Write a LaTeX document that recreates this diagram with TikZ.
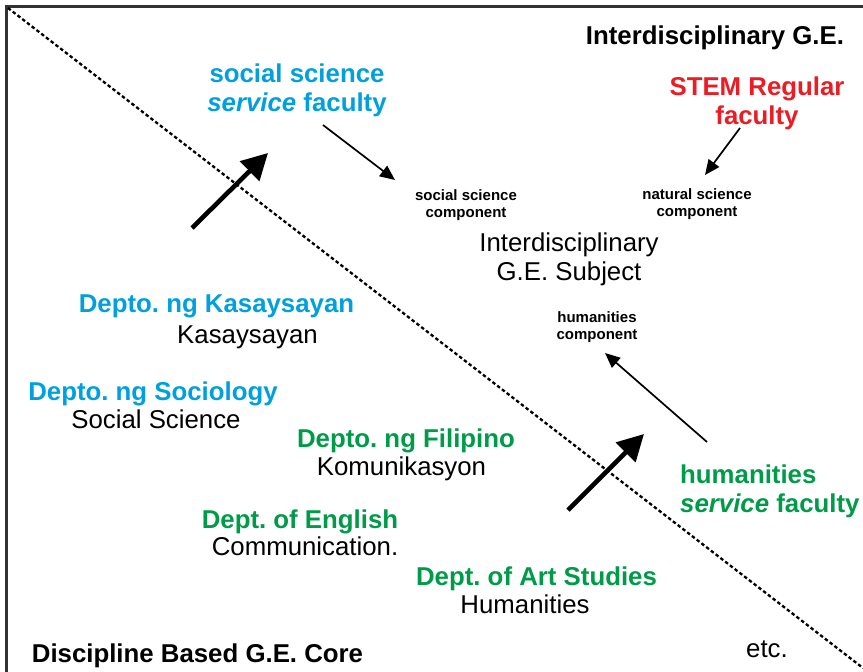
\documentclass[tikz,border=0pt]{standalone}
\usepackage{fontspec}
\setmainfont{Liberation Sans}
\frenchspacing
\usetikzlibrary{arrows.meta}
\definecolor{sblue}{RGB}{0,160,222}
\definecolor{hgreen}{RGB}{0,155,72}
\definecolor{sred}{RGB}{236,28,36}
\definecolor{frame}{RGB}{50,50,50}
\tikzset{
  big/.style={font=\fontsize{25.8}{29}\selectfont, inner sep=0pt, anchor=base, align=center},
  bigb/.style={big, font=\fontsize{25.8}{29}\selectfont\bfseries},
  small/.style={font=\fontsize{15}{17}\selectfont\bfseries, inner sep=0pt, anchor=base, align=center},
  thinarrow/.style={line width=1.7pt, -{Triangle[length=15pt,width=13pt]}},
  thickarrow/.style={line width=4.6pt, -{Triangle[length=26pt,width=27pt]}},
  divider/.style={line width=2.3pt, dash pattern=on 3.5pt off 2.5pt},
}
\begin{document}
\begin{tikzpicture}[x=1pt,y=-1pt]
\useasboundingbox (0,0) rectangle (863,672);
% frame
\draw[frame, line width=2.6pt] (6.5,672) -- (6.5,6.5) -- (863,6.5);
% diagonal divider
\coordinate (d1) at (8,8);
\coordinate (d2) at (863,668);
\draw[divider] (d1) -- (d2);

% top right (multi-line nodes are anchored at the baseline of their last line)
\node[bigb] (igeTitle) at (715,44) {Interdisciplinary G.E.};
\node[bigb, text=sblue] (ssFac) at (297,111) {social science\\\textit{service} faculty};
\node[bigb, text=sred] (stemFac) at (757,124) {STEM Regular\\faculty};
\node[small] (ssComp) at (466,217) {social science\\component};
\node[small] (nsComp) at (697,216) {natural science\\component};
\node[big] (igeSubj) at (569,280) {Interdisciplinary\\G.E. Subject};
\node[small] (huComp) at (597,339) {humanities\\component};
\node[bigb, text=hgreen, align=left, anchor=base west] (huFac) at (680,512) {humanities\\\textit{service} faculty};

% thin arrows
\coordinate (a1s) at (323,125); \coordinate (a1e) at (395,180);
\coordinate (a2s) at (740,128); \coordinate (a2e) at (705,175);
\coordinate (a3s) at (707,442); \coordinate (a3e) at (605,353);
\draw[thinarrow] (a1s) -- (a1e);
\draw[thinarrow] (a2s) -- (a2e);
\draw[thinarrow] (a3s) -- (a3e);

% thick arrows
\coordinate (t1s) at (192,228); \coordinate (t1e) at (268,153);
\coordinate (t2s) at (568,510); \coordinate (t2e) at (644,434);
\draw[thickarrow] (t1s) -- (t1e);
\draw[thickarrow] (t2s) -- (t2e);

% bottom left
\node[bigb, text=sblue] (dKas) at (216.5,312) {Depto. ng Kasaysayan};
\node[big] (kas) at (247.5,343) {Kasaysayan};
\node[bigb, text=sblue] (dSoc) at (153,400) {Depto. ng Sociology};
\node[big] (soc) at (156,428) {Social Science};
\node[bigb, text=hgreen] (dFil) at (406,447) {Depto. ng Filipino};
\node[big] (kom) at (401.5,475) {Komunikasyon};
\node[bigb, text=hgreen] (dEng) at (300,528) {Dept. of English};
\node[big] (com) at (305,555) {Communication.};
\node[bigb, text=hgreen] (dArt) at (536.5,585) {Dept. of Art Studies};
\node[big] (hum) at (525,613) {Humanities};
\node[big] (etc) at (767,657) {etc.};
\node[bigb] (dbCore) at (197.5,662) {Discipline Based G.E. Core};
\end{tikzpicture}
\end{document}
